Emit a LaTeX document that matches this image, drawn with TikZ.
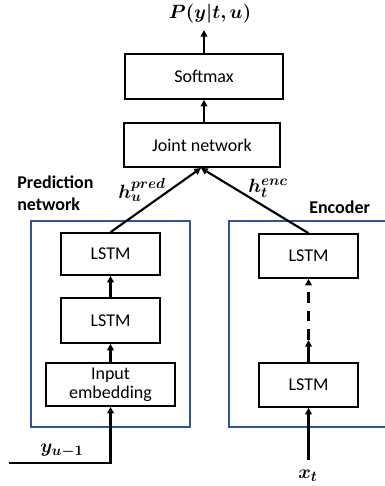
\documentclass[tikz,border=0pt]{standalone}
\usepackage{amsmath,bm}
\usepackage{fontspec}
\setmainfont{Carlito}
\usetikzlibrary{arrows.meta}
\definecolor{frameblue}{HTML}{2F5597}
\begin{document}
\begin{tikzpicture}[x=0.75pt,y=-0.75pt,
  box/.style={draw=black, line width=1.2pt, inner sep=0pt, align=center, font=\fontsize{13.5}{15}\selectfont},
  arr/.style={line width=1.6pt, -{Triangle[width=5pt,length=5pt]}},
  frame/.style={draw=frameblue, line width=1.3pt},
  lbl/.style={font=\fontsize{13.5}{16.5}\selectfont\bfseries, align=left, inner sep=0pt},
  mlbl/.style={font=\fontsize{15}{17}\selectfont, inner sep=0pt}]
\useasboundingbox (0,0) rectangle (385,486);
% frames
\draw[frame] (31,221) rectangle (190,427);
\draw[frame] (385,221) -- (229,221) -- (229,427) -- (385,427);
% boxes
\node[box, minimum width=118.5pt, minimum height=33.75pt] (sm) at (204,76.5) {Softmax};
\node[box, minimum width=117pt, minimum height=33pt] (jn) at (202,145) {Joint network};
\node[box, minimum width=74.25pt, minimum height=31.5pt] (pl2) at (110.5,254) {LSTM};
\node[box, minimum width=74.25pt, minimum height=33.75pt] (pl1) at (110.5,320.5) {LSTM};
\node[box, minimum width=96.75pt, minimum height=32.25pt] (emb) at (110.5,384.5) {Input\\[-1pt]embedding};
\node[box, minimum width=74.25pt, minimum height=33pt] (el2) at (308.5,256) {LSTM};
\node[box, minimum width=74.25pt, minimum height=33pt] (el1) at (308.5,385) {LSTM};
% labels
\node[mlbl] (out) at (210,14) {$\bm{P(y|t,u)}$};
\node[lbl, anchor=north west] (pn) at (17,176) {Prediction\\network};
\node[lbl, anchor=west] (enc) at (309,207) {Encoder};
\node[mlbl] (hp) at (142,190) {$\bm{h_u^{pred}}$};
\node[mlbl] (he) at (268,188) {$\bm{h_t^{enc}}$};
\node[mlbl] (yu) at (62,451) {$\bm{y_{u-1}}$};
\node[mlbl] (xt) at (308,476) {$\bm{x_t}$};
\coordinate (outtip) at (204,30);
\coordinate (merge) at (201,168);
\coordinate (yin) at (9,463);
\coordinate (xin) at (308.5,460);
\coordinate (dstart) at (308.5,340);
% connectors
\draw[arr] (sm.north) -- (outtip);
\draw[arr] (jn.north -| sm.south) -- (sm.south);
\draw[arr] (pl2.north) -- (merge);
\draw[arr] (el2.north) -- (merge);
\draw[arr] (pl1.north) -- (pl2.south);
\draw[arr] (emb.north) -- (pl1.south);
\draw[arr] (yin) -| (emb.south);
\draw[arr] (xin) -- (el1.south);
\draw[arr] (el1.north) -- (dstart);
\draw[arr, dash pattern=on 8pt off 6pt] (dstart) -- (el2.south);
\end{tikzpicture}
\end{document}
